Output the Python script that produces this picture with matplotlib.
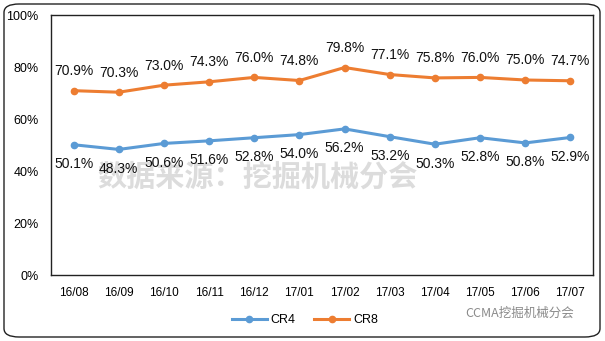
import matplotlib
matplotlib.use("Agg")
import matplotlib.pyplot as plt
from matplotlib.patches import FancyBboxPatch

plt.rcParams['font.family'] = ['Liberation Sans', 'Noto Sans CJK SC', 'DejaVu Sans']

months = ["16/08", "16/09", "16/10", "16/11", "16/12", "17/01", "17/02",
          "17/03", "17/04", "17/05", "17/06", "17/07"]
cr4 = [50.1, 48.3, 50.6, 51.6, 52.8, 54.0, 56.2, 53.2, 50.3, 52.8, 50.8, 52.9]
cr8 = [70.9, 70.3, 73.0, 74.3, 76.0, 74.8, 79.8, 77.1, 75.8, 76.0, 75.0, 74.7]
yticks = [0, 20, 40, 60, 80, 100]

blue = "#5B9BD5"
orange = "#ED7D31"

fig = plt.figure(figsize=(6.05, 3.41), dpi=100)
ax = fig.add_axes([51/605, 1-275/341, (593-51)/605, (275-15)/341])
ax.set_zorder(1)
ax.set_facecolor('none')

# watermark behind data
fig.text(258/605, 1-177/341, "数据来源：挖掘机械分会", fontsize=21, color='#dcdcdc',
         ha='center', va='center', fontweight='bold',
         family=['Noto Sans CJK SC', 'DejaVu Sans'], zorder=0)

x = list(range(len(months)))
ax.plot(x, cr4, color=blue, lw=2.2, marker='o', ms=4.5, label="CR4", zorder=3)
ax.plot(x, cr8, color=orange, lw=2.2, marker='o', ms=4.5, label="CR8", zorder=3)

for xi, v in zip(x, cr8):
    ax.annotate(f"{v:.1f}%", (xi, v), xytext=(0, 9), textcoords='offset points',
                ha='center', va='bottom', fontsize=10, color='#111111')
for xi, v in zip(x, cr4):
    ax.annotate(f"{v:.1f}%", (xi, v), xytext=(0, -9), textcoords='offset points',
                ha='center', va='top', fontsize=10, color='#111111')

ax.set_xlim(-0.5, len(months) - 0.5)
ax.set_ylim(0, 100)
ax.set_yticks(yticks)
ax.set_yticklabels([f"{t}%" for t in yticks], fontsize=9)
ax.set_xticks(x)
ax.set_xticklabels(months, fontsize=8.5)
ax.tick_params(length=0)
ax.tick_params(axis='x', pad=9)
ax.tick_params(axis='y', pad=9)
for s in ax.spines.values():
    s.set_linewidth(1.0)
    s.set_color('#222222')

fig.text(520/605, 1-313/341, "CCMA挖掘机械分会", fontsize=9, color='#8a8a8a',
         ha='center', va='center', family=['Noto Sans CJK SC', 'DejaVu Sans'])

leg = fig.legend(loc='center', bbox_to_anchor=(305/605, 1-320/341), ncol=2, frameon=False,
                 fontsize=9, handlelength=2.8, columnspacing=1.5, handletextpad=0.3)

border = FancyBboxPatch((4/605, 4/341), 596/605, 333/341,
                        boxstyle="round,pad=0,rounding_size=0.025",
                        transform=fig.transFigure, fill=False, ec='#222222', lw=1.0)
fig.patches.append(border)

fig.savefig("out.png", dpi=100)
